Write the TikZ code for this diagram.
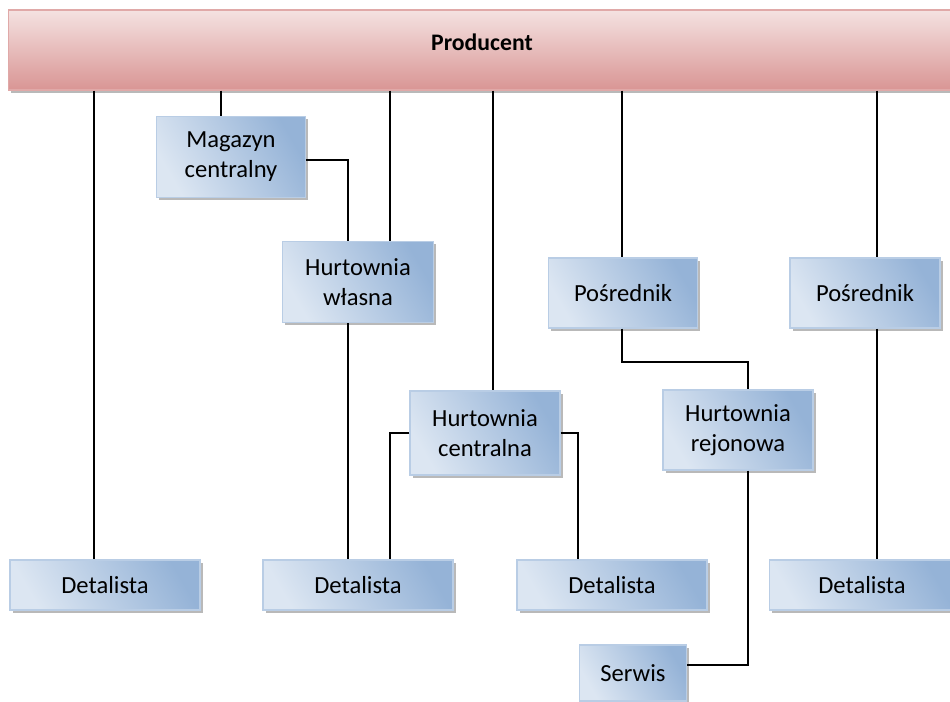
\documentclass[tikz,border=0pt]{standalone}
\usepackage{fontspec}
\setmainfont{Carlito}
\usepackage{tikz}
\usetikzlibrary{positioning,shadows,calc}

\definecolor{boxlight}{HTML}{DCE6F2}
\definecolor{boxdark}{HTML}{95B3D7}
\definecolor{boxline}{HTML}{B9CDE5}
\definecolor{barlight}{HTML}{F4E2E1}
\definecolor{bardark}{HTML}{D99594}
\definecolor{barline}{HTML}{E0A9A8}

\tikzset{
  unit/.style = {draw=boxline, line width=0.8pt, shading=axis,
    left color=boxlight, right color=boxdark, shading angle=120,
    align=center, font=\fontsize{14}{17}\selectfont,
    drop shadow={shadow xshift=1.6pt, shadow yshift=-1.6pt, fill=gray!55, opacity=1}},
  detbox/.style = {unit, minimum width=3.8cm, minimum height=1.0cm},
  link/.style = {line width=1.1pt},
}

\begin{document}
\begin{tikzpicture}[x=0.02cm, y=-0.02cm]
		\useasboundingbox (0,0) rectangle (950,701);
		% producer bar
		\node[draw=barline, line width=0.8pt, top color=barlight, bottom color=bardark,
		      minimum width=18.95cm, minimum height=1.6cm,
		      drop shadow={shadow xshift=1.6pt, shadow yshift=-1.6pt, fill=gray!55, opacity=1},
		      label={[font=\fontsize{13.5}{17}\selectfont\bfseries, yshift=4.5pt]center:Producent}]
		      (prod) at (482,50) {};
		
		\node[unit, minimum width=2.98cm, minimum height=1.62cm] (mag) at (231,157) {Magazyn\\centralny};
		\node[unit, minimum width=3.02cm, minimum height=1.62cm] (hwl) at (358,282) {Hurtownia\\własna};
		\node[unit, minimum width=2.98cm, minimum height=1.4cm] (pos1) at (623,293) {Pośrednik};
		\node[unit, minimum width=3.0cm, minimum height=1.4cm] (pos2) at (865,293) {Pośrednik};
		\node[unit, minimum width=3.0cm, minimum height=1.68cm] (hcen) at (485,433) {Hurtownia\\centralna};
		\node[unit, minimum width=3.0cm, minimum height=1.6cm] (hrej) at (738,430) {Hurtownia\\rejonowa};
		\node[detbox] (det1) at (105,585) {Detalista};
		\node[detbox] (det2) at (358,585) {Detalista};
		\node[detbox] (det3) at (612,585) {Detalista};
		\node[detbox, minimum width=3.7cm] (det4) at (862,585) {Detalista};
		\node[unit, minimum width=2.14cm, minimum height=1.12cm] (serw) at (633,673) {Serwis};
		
		% lines from producer
		\draw[link] (prod.south -| 94,0) -- (det1.north -| 94,0);
		\draw[link] (prod.south -| 221,0) -- (mag.north -| 221,0);
		\draw[link] (prod.south -| 390,0) -- (hwl.north -| 390,0);
		\draw[link] (prod.south -| 493,0) -- (hcen.north -| 493,0);
		\draw[link] (prod.south -| 622,0) -- (pos1.north -| 622,0);
		\draw[link] (prod.south -| 877,0) -- (pos2.north -| 877,0);
		
		% lines between units
		\draw[link] (mag.east |- 0,160) -| (hwl.north -| 348,0);
		\draw[link] (hwl.south -| 348,0) -- (det2.north -| 348,0);
		\draw[link] (hcen.west |- 0,433) -| (det2.north -| 390,0);
		\draw[link] (hcen.east |- 0,433) -| (det3.north -| 578,0);
		\draw[link] (pos1.south -| 622,0) |- (748,362) -- (hrej.north -| 748,0);
		\draw[link] (hrej.south -| 748,0) |- (serw.east |- 0,665);
		\draw[link] (pos2.south -| 877,0) -- (det4.north -| 877,0);
\end{tikzpicture}
\end{document}
